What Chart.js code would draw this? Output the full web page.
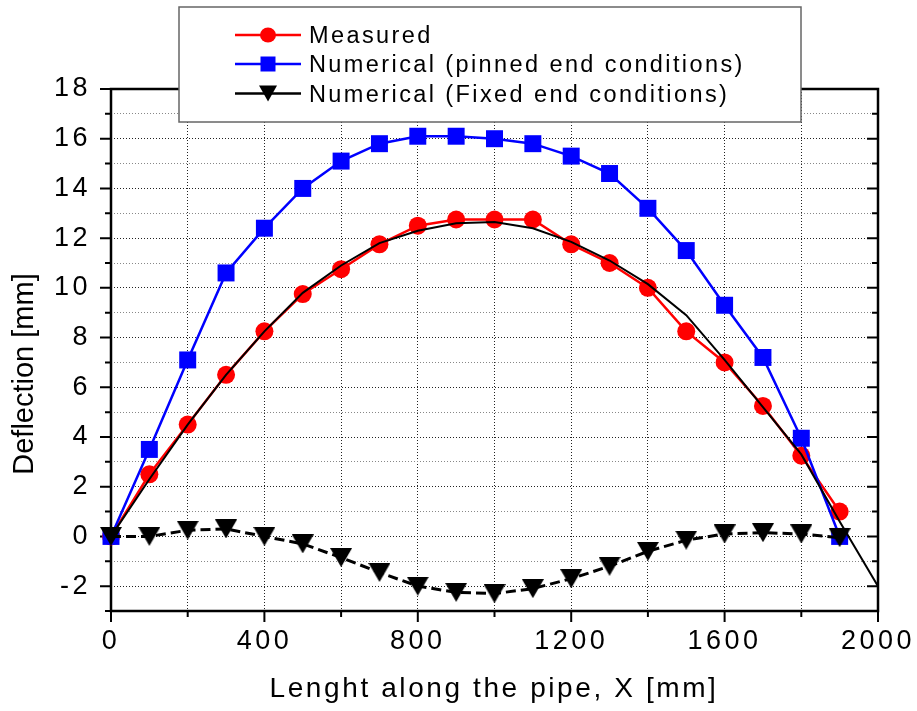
<!DOCTYPE html>
<html>
<head>
<meta charset="utf-8">
<script src="https://cdn.jsdelivr.net/npm/chart.js@4/dist/chart.umd.min.js"></script>
<style>
  html, body { margin: 0; padding: 0; background: #fff; }
  #wrap { width: 917px; height: 711px; }
</style>
</head>
<body>
<div id="wrap"><canvas id="deflection-chart" width="917" height="711"></canvas></div>
<script>
// positions along the pipe (mm)
var xPos = [0, 100, 200, 300, 400, 500, 600, 700, 800, 900, 1000, 1100, 1200, 1300, 1400, 1500, 1600, 1700, 1800, 1900];

// deflection series (mm)
var measured = [0, 2.5, 4.5, 6.5, 8.25, 9.75, 10.75, 11.75, 12.5, 12.75, 12.75, 12.75, 11.75, 11.0, 10.0, 8.25, 7.0, 5.25, 3.25, 1.0];
var pinned = [0, 3.5, 7.1, 10.6, 12.4, 14.0, 15.1, 15.8, 16.1, 16.1, 16.0, 15.8, 15.3, 14.6, 13.2, 11.5, 9.3, 7.2, 3.95, 0];
var fixed = [0, 0.0, 0.25, 0.3, 0.0, -0.3, -0.85, -1.45, -2.0, -2.25, -2.3, -2.1, -1.7, -1.2, -0.6, -0.15, 0.1, 0.15, 0.1, -0.05];

// smooth black curve (no markers)
var curveX = [0, 100, 200, 300, 400, 500, 600, 700, 800, 900, 1000, 1100, 1200, 1300, 1400, 1500, 1600, 1700, 1800, 1900, 2000];
var curveY = [0, 2.3, 4.5, 6.5, 8.25, 9.8, 10.9, 11.8, 12.3, 12.6, 12.65, 12.4, 11.85, 11.1, 10.15, 8.9, 7.1, 5.2, 3.3, 0.6, -2.0];

// axes
var xMin = 0, xMax = 2000, xStep = 200, xLabelStep = 400;
var yMin = -3, yMax = 18, yStep = 1, yLabelStep = 2;

var legendLabels = ["Measured", "Numerical (pinned end conditions)", "Numerical (Fixed end conditions)"];
var xTitle = "Lenght along the pipe, X [mm]";
var yTitle = "Deflection [mm]";

var FONT = '"Liberation Sans", Arial, sans-serif';

function toPoints(xs, ys) {
    return xs.map(function (x, i) { return { x: x, y: ys[i] }; });
}

// down-pointing triangle marker, centred on its box like the original
function makeTriangle(w, h) {
    var c = document.createElement('canvas');
    c.width = w; c.height = h;
    var g = c.getContext('2d');
    g.fillStyle = '#000';
    g.beginPath();
    g.moveTo(0, 0);
    g.lineTo(w, 0);
    g.lineTo(w / 2, h);
    g.closePath();
    g.fill();
    return c;
}
var triMarker = makeTriangle(22, 19);

// set the stretched text look before anything is drawn
const spacingPlugin = {
    id: 'spacing',
    beforeDraw(chart) {
        chart.ctx.letterSpacing = '3.5px';
    }
};

// frame + inner/outer tick marks like Origin
const framePlugin = {
    id: 'frame',
    beforeDatasetsDraw(chart) {
        const ctx = chart.ctx;
        const a = chart.chartArea;
        const xs = chart.scales.x, ys = chart.scales.y;
        ctx.save();
        ctx.strokeStyle = '#000';
        ctx.lineWidth = 2;
        ctx.beginPath();
        for (let v = yMin; v <= yMax; v += yStep) {
            const p = ys.getPixelForValue(v);
            const len = (v % yLabelStep === 0) ? 11 : 6;
            ctx.moveTo(a.left - len, p); ctx.lineTo(a.left, p);
            ctx.moveTo(a.right, p); ctx.lineTo(a.right - len, p);
        }
        for (let v = xMin; v <= xMax; v += xStep) {
            const p = xs.getPixelForValue(v);
            const len = (v % xLabelStep === 0) ? 11 : 6;
            ctx.moveTo(p, a.bottom); ctx.lineTo(p, a.bottom + len);
        }
        ctx.stroke();
        ctx.lineWidth = 2.5;
        ctx.strokeRect(a.left, a.top, a.right - a.left, a.bottom - a.top);
        ctx.restore();
    }
};

// legend box and axis titles
const extrasPlugin = {
    id: 'extras',
    afterDraw(chart) {
        const ctx = chart.ctx;
        ctx.save();

        // y title
        ctx.letterSpacing = '0px';
        ctx.fillStyle = '#000';
        ctx.font = '29px ' + FONT;
        ctx.textAlign = 'center';
        ctx.textBaseline = 'alphabetic';
        ctx.save();
        ctx.translate(33, 374);
        ctx.rotate(-Math.PI / 2);
        ctx.fillText(yTitle, 0, 0);
        ctx.restore();

        // x title
        ctx.letterSpacing = '2.6px';
        ctx.font = '28px ' + FONT;
        ctx.fillText(xTitle, 494, 697);

        // legend
        ctx.fillStyle = '#fff';
        ctx.fillRect(179, 7, 622, 115);
        ctx.strokeStyle = '#666';
        ctx.lineWidth = 1.5;
        ctx.strokeRect(179, 7, 622, 115);

        const rowsY = [35, 64, 93.5];
        const colors = ['#ff0000', '#0000ff', '#000000'];
        ctx.letterSpacing = '2.4px';
        ctx.font = '23.5px ' + FONT;
        ctx.textAlign = 'left';
        for (let i = 0; i < 3; i++) {
            const y = rowsY[i];
            ctx.strokeStyle = colors[i];
            ctx.fillStyle = colors[i];
            ctx.lineWidth = 2.5;
            ctx.beginPath();
            ctx.moveTo(235, y); ctx.lineTo(301, y);
            ctx.stroke();
            ctx.beginPath();
            if (i === 0) {
                ctx.ellipse(268, y, 8, 7.5, 0, 0, Math.PI * 2);
            } else if (i === 1) {
                ctx.rect(260.5, y - 7.5, 15, 15);
            } else {
                ctx.moveTo(259, y - 8); ctx.lineTo(277, y - 8); ctx.lineTo(268, y + 8); ctx.closePath();
            }
            ctx.fill();
            ctx.fillStyle = '#000';
            ctx.fillText(legendLabels[i], 309, y + 8.3);
        }
        ctx.restore();
    }
};

let ctx2d = document.getElementById('deflection-chart').getContext('2d');
var deflectionChart = new Chart(ctx2d, {
    type: 'line',
    data: {
        datasets: [
            {
                label: 'fit',
                data: toPoints(curveX, curveY),
                borderColor: '#000',
                borderWidth: 2,
                pointRadius: 0,
                tension: 0,
                clip: false,
                order: 0
            },
            {
                label: legendLabels[2],
                data: toPoints(xPos, fixed),
                borderColor: '#000',
                borderWidth: 3,
                borderDash: [10, 5],
                pointStyle: triMarker,
                pointRadius: 10,
                clip: false,
                order: 1
            },
            {
                label: legendLabels[1],
                data: toPoints(xPos, pinned),
                borderColor: '#0000ff',
                backgroundColor: '#0000ff',
                borderWidth: 2.5,
                pointStyle: 'rect',
                pointRadius: 12,
                pointBorderWidth: 0,
                clip: false,
                order: 2
            },
            {
                label: legendLabels[0],
                data: toPoints(xPos, measured),
                borderColor: '#ff0000',
                backgroundColor: '#ff0000',
                borderWidth: 2.5,
                pointStyle: 'circle',
                pointRadius: 9,
                pointBorderWidth: 0,
                clip: false,
                order: 3
            }
        ]
    },
    options: {
        responsive: false,
        animation: false,
        layout: { padding: { left: 0, top: 89, right: 39, bottom: 0 } },
        plugins: {
            legend: { display: false },
            tooltip: { enabled: false }
        },
        scales: {
            x: {
                type: 'linear',
                min: xMin,
                max: xMax,
                afterFit: function (scale) {
                    scale.height = 100;
                    scale.paddingLeft = 0;
                    scale.paddingRight = 0;
                },
                border: { display: false, dash: [1, 2] },
                grid: { color: '#222', lineWidth: 1, drawTicks: false },
                ticks: {
                    stepSize: xStep,
                    autoSkip: false,
                    maxRotation: 0,
                    padding: 14,
                    color: '#000',
                    font: { family: FONT, size: 27 },
                    callback: function (v) { return v % xLabelStep === 0 ? String(v) : ''; }
                }
            },
            y: {
                min: yMin,
                max: yMax,
                afterFit: function (scale) {
                    scale.width = 111;
                    scale.paddingTop = 0;
                    scale.paddingBottom = 0;
                },
                border: { display: false, dash: [1, 2] },
                grid: {
                    color: function (c) { return c.tick && c.tick.value % yLabelStep === 0 ? '#222' : '#888'; },
                    lineWidth: 1,
                    drawTicks: false
                },
                ticks: {
                    stepSize: yStep,
                    autoSkip: false,
                    padding: 20,
                    color: '#000',
                    font: { family: FONT, size: 27 },
                    callback: function (v) { return v % yLabelStep === 0 ? String(v) : ''; }
                }
            }
        }
    },
    plugins: [spacingPlugin, framePlugin, extrasPlugin]
});
</script>
</body>
</html>
